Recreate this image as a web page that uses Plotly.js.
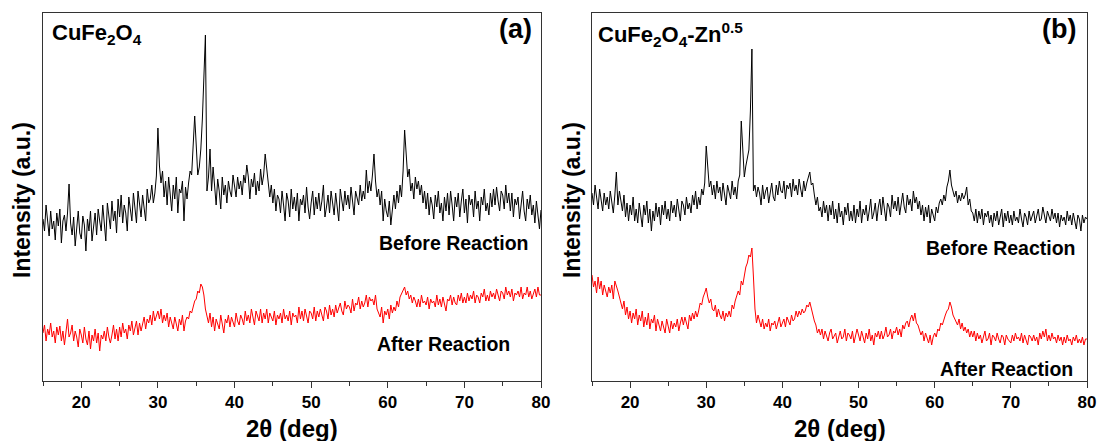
<!DOCTYPE html>
<html>
<head>
<meta charset="utf-8">
<script src="https://cdn.plot.ly/plotly-3.0.1.min.js"></script>
<style>html,body{margin:0;padding:0;background:#fff}#chart{width:1100px;height:441px}</style>
</head>
<body>
<div id="chart"></div>
<script>
// 2θ sampling of the digitised patterns (deg)
const twoThetaStart = 15;
const twoThetaStep = 0.2;

// (a) CuFe2O4 — before reaction (offset intensity, a.u.)
const cuFeBefore = [
162,150,176,158,145, 170,152,160,141,168, 155,172,138,160,166, 150,168,197,158,146, 164,135,158,170,148,
142,165,156,130,162, 150,170,140,158,168, 146,172,160,150,176, 158,140,178,166,152, 180,160,170,148,182,
164,186,158,176,168, 150,184,172,160,188, 170,158,190,176,164, 186,172,160,192,178, 182,196,178,188,205,
253,215,198,210,184, 200,176,204,190,170, 196,182,204,168,192, 188,200,160,194,182, 198,210,206,230,265,
236,206,214,232,262, 296,346,190,204,232, 190,214,196,176,202, 190,172,204,186,196, 178,200,190,184,206,
196,184,204,192,200, 186,206,198,216,204, 182,202,194,208,186, 200,190,212,196,206, 227,212,192,184,196,
178,192,170,186,182, 168,190,176,160,188, 180,164,192,172,184, 170,188,160,182,176, 186,168,194,174,162,
178,190,166,184,172, 188,170,180,196,164, 174,186,168,190,178, 166,188,176,160,192, 180,170,190,176,186,
172,194,180,166,190, 184,176,196,180,190, 182,211,188,200,190, 206,227,200,184,192, 176,190,160,182,170,
164,180,156,174,186, 172,190,178,196,184, 210,251,224,204,212, 190,198,182,204,192, 200,186,196,178,190,
172,188,166,184,176, 162,186,174,190,168, 178,160,184,170,188, 166,190,176,160,184, 174,188,164,180,192,
168,182,158,186,176, 182,164,190,172,180, 160,184,176,192,170, 178,166,188,174,192, 176,194,180,170,190,
186,172,196,178,188, 170,188,164,182,176, 184,162,178,190,170, 160,182,172,186,166, 176,158,180,168,152,
171];

// (a) CuFe2O4 — after reaction
const cuFeAfter = [
48,56,40,52,46, 58,44,50,38,54, 46,55,40,50,36, 52,62,44,48,56, 40,50,44,34,52,
46,38,54,42,36, 50,32,46,40,52, 38,48,30,46,42, 50,40,54,44,38, 46,56,42,52,40,
54,44,58,48,52, 42,56,50,60,46, 52,60,46,58,50, 56,64,52,62,58, 66,56,70,60,64,
70,62,72,58,66, 60,68,54,64,58, 52,64,58,50,62, 56,66,50,60,64, 62,70,68,76,80,
82,90,88,97,94, 86,72,64,58,68, 54,64,50,62,58, 52,66,56,48,62, 58,66,54,64,60,
54,68,60,56,66, 62,56,70,60,66, 58,72,64,56,70, 66,60,72,58,68, 62,72,58,68,64,
60,70,56,66,62, 68,58,72,62,66, 60,70,56,68,64, 66,58,74,62,70, 60,72,64,58,70,
68,62,74,60,70, 64,72,66,60,74, 70,62,76,66,72, 64,76,68,72,78, 70,66,80,72,76,
74,68,82,70,78, 76,84,72,80,74, 78,86,74,84,80, 82,76,86,72,68, 64,74,58,70,66,
72,62,76,68,74, 70,80,74,84,88, 90,94,86,90,82, 86,78,84,80,74, 82,74,86,78,80,
76,84,72,82,78, 80,74,86,76,82, 74,84,78,70,82, 80,86,76,84,78, 76,86,80,88,78,
84,78,88,80,86, 82,90,78,86,84, 78,88,84,92,80, 86,80,90,84,88, 82,92,86,80,90,
88,82,94,86,90, 84,92,80,88,86, 90,84,94,82,88, 86,94,84,90,82, 88,92,84,94,86,
86];

// (b) CuFe2O4-Zn0.5 — before reaction
const cuFeZnBefore = [
188,176,196,182,172, 192,180,170,188,176, 184,172,190,178,168, 186,209,176,190,180, 170,186,164,178,160,
176,166,184,160,172, 158,178,168,154,176, 166,180,158,172,150, 170,160,178,164,174, 156,176,166,180,162,
172,160,180,168,176, 164,182,170,160,180, 176,166,184,172,178, 168,186,176,190,172, 184,176,192,186,198,
235,208,194,200,186, 196,182,200,188,194, 180,198,186,176,196, 190,182,200,186,194, 182,200,206,260,228,
204,215,222,231,270, 332,190,196,184,194, 188,176,196,182,190, 194,178,188,198,184, 180,196,186,200,190,
188,200,182,196,192, 198,184,202,190,196, 186,202,192,184,200, 190,198,204,209,196, 198,186,176,184,170,
174,164,180,168,176, 160,176,166,180,162, 172,158,178,164,170, 156,174,166,178,160, 170,160,176,158,172,
164,180,158,172,166, 176,160,170,182,162, 168,178,160,174,182, 166,184,172,160,178, 174,164,186,172,180,
170,184,166,178,188, 174,168,186,176,182, 170,190,178,184,172, 180,166,176,160,174, 164,176,158,172,166,
160,174,168,178,182, 176,186,180,194,200, 211,196,188,184,190, 178,186,180,188,182, 186,194,176,182,170,
168,160,172,158,170, 162,172,156,168,164, 170,158,166,154,168, 160,170,156,166,172, 154,168,160,170,158,
166,156,170,160,164, 158,172,162,154,168, 164,156,170,160,166, 170,158,166,172,160, 162,174,164,158,170,
166,160,172,162,168, 158,168,154,166,160, 164,156,170,160,166, 156,168,160,152,166, 162,150,166,158,164,
162];

// (b) CuFe2O4-Zn0.5 — after reaction
const cuFeZnAfter = [
106,94,100,88,104, 92,100,86,96,90, 84,94,88,96,82, 100,96,90,84,78, 72,80,66,74,62,
70,58,68,62,72, 56,66,60,70,54, 64,56,68,52,62, 58,66,50,62,56, 50,60,54,48,62,
56,48,60,52,58, 54,62,50,58,64, 56,64,58,52,66, 60,68,62,70,64, 70,78,76,84,88,
93,84,78,82,72, 70,76,64,72,66, 62,70,60,68,64, 70,64,76,72,80, 84,90,86,100,96,
106,114,118,126,124, 133,104,72,58,66, 60,54,62,52,58, 54,62,50,58,56, 60,52,58,64,54,
58,62,54,64,60, 56,66,60,62,70, 64,70,66,72,68, 70,76,74,79,72, 68,60,56,48,52,
46,52,42,50,44, 40,48,52,42,46, 48,38,46,50,42, 44,52,40,48,46, 42,50,38,46,52,
46,40,50,44,38, 48,42,52,40,46, 36,48,44,50,42, 50,42,46,54,44, 46,52,42,50,48,
54,46,52,44,56, 52,58,60,54,62, 66,60,68,58,56, 52,46,50,40,48, 42,38,46,36,44,
48,44,52,50,58, 56,62,66,70,72, 79,74,66,62,58, 56,62,52,58,50, 54,48,52,44,50,
44,50,40,48,42, 46,38,44,50,40, 42,48,36,46,44, 40,48,42,38,46, 44,36,46,42,40,
38,46,40,48,42, 44,40,48,38,46, 42,36,46,44,40, 46,40,44,36,48, 42,50,44,52,40,
46,40,48,42,44, 38,46,40,44,36, 44,38,46,40,42, 36,44,40,46,38, 42,38,44,36,42,
42];

const tickValues = [20, 30, 40, 50, 60, 70, 80];
const tickLabels = ['20', '30', '40', '50', '60', '70', '80'];
const panelLabels = ['(a)', '(b)'];
const sampleNames = ['CuFe<sub>2</sub>O<sub>4</sub>', 'CuFe<sub>2</sub>O<sub>4</sub>-Zn<sup>0.5</sup>'];
const curveNames = ['Before Reaction', 'After Reaction'];
const xTitle = '2θ (deg)';
const yTitle = 'Intensity (a.u.)';

const twoTheta = cuFeBefore.map((_, i) => twoThetaStart + i * twoThetaStep);

function line(y, color, xa, ya, name) {
  return {x: twoTheta, y: y, type: 'scatter', mode: 'lines', name: name,
          xaxis: xa, yaxis: ya, line: {color: color, width: 1}, showlegend: false, hoverinfo: 'x+y'};
}

const data = [
  line(cuFeBefore, '#000000', 'x', 'y', curveNames[0]),
  line(cuFeAfter, '#ff0000', 'x', 'y', curveNames[1]),
  line(cuFeZnBefore, '#000000', 'x2', 'y2', curveNames[0]),
  line(cuFeZnAfter, '#ff0000', 'x2', 'y2', curveNames[1])
];

const W = 1100, H = 441;
const px = v => v / W, py = v => 1 - v / H;
const fontFam = 'Arial, "Liberation Sans", sans-serif';

function xa(domain, anchor) {
  return {domain: domain, anchor: anchor, range: [15, 80], showline: true, mirror: true,
    linecolor: '#333', linewidth: 1, ticks: 'outside', ticklen: 6, tickwidth: 1, tickcolor: '#333',
    tickmode: 'array', tickvals: tickValues, ticktext: tickLabels.map(t => '<b>' + t + '</b>'),
    showgrid: false, zeroline: false, automargin: false,
    tickfont: {family: fontFam, size: 17, color: '#000'},
    minor: {dtick: 5, tick0: 15, ticks: 'outside', ticklen: 4, tickcolor: '#333', showgrid: false}};
}
function ya(anchor) {
  return {domain: [py(381), py(13)], anchor: anchor, range: [0, 368], showline: true, mirror: true,
    linecolor: '#333', linewidth: 1, ticks: '', showticklabels: false, showgrid: false,
    zeroline: false, automargin: false};
}

const leftDom = [px(43), px(541)], rightDom = [px(592), px(1087)];

function ann(text, x, y, size, xanchor, extra) {
  return Object.assign({text: '<b>' + text + '</b>', x: x, y: y, xref: 'paper', yref: 'paper', showarrow: false,
    xanchor: xanchor, yanchor: 'middle',
    font: {family: fontFam, size: size, color: '#000'}}, extra || {});
}

const annotations = [
  ann(sampleNames[0], px(50), py(34), 22, 'left'),
  ann(panelLabels[0], px(534), py(29), 27, 'right'),
  ann(curveNames[0], px(531), py(243), 19.5, 'right'),
  ann(curveNames[1], px(512), py(344), 19.5, 'right'),
  ann(sampleNames[1], px(596), py(34), 22, 'left'),
  ann(panelLabels[1], px(1078), py(29), 27, 'right'),
  ann(curveNames[0], px(1078), py(248), 19.5, 'right'),
  ann(curveNames[1], px(1075), py(369), 19.5, 'right'),
  ann(xTitle, px(292), py(428), 24, 'center'),
  ann(xTitle, px(840), py(428), 24, 'center'),
  ann(yTitle, px(22), py(200), 23, 'center', {textangle: -90}),
  ann(yTitle, px(572), py(200), 23, 'center', {textangle: -90})
];

const layout = {
  width: W, height: H, margin: {l: 0, r: 0, t: 0, b: 0},
  paper_bgcolor: '#fff', plot_bgcolor: '#fff', showlegend: false,
  xaxis: xa(leftDom, 'y'), yaxis: ya('x'),
  xaxis2: xa(rightDom, 'y2'), yaxis2: ya('x2'),
  annotations: annotations
};

Plotly.newPlot('chart', data, layout, {displayModeBar: false, staticPlot: true});
</script>
</body>
</html>
